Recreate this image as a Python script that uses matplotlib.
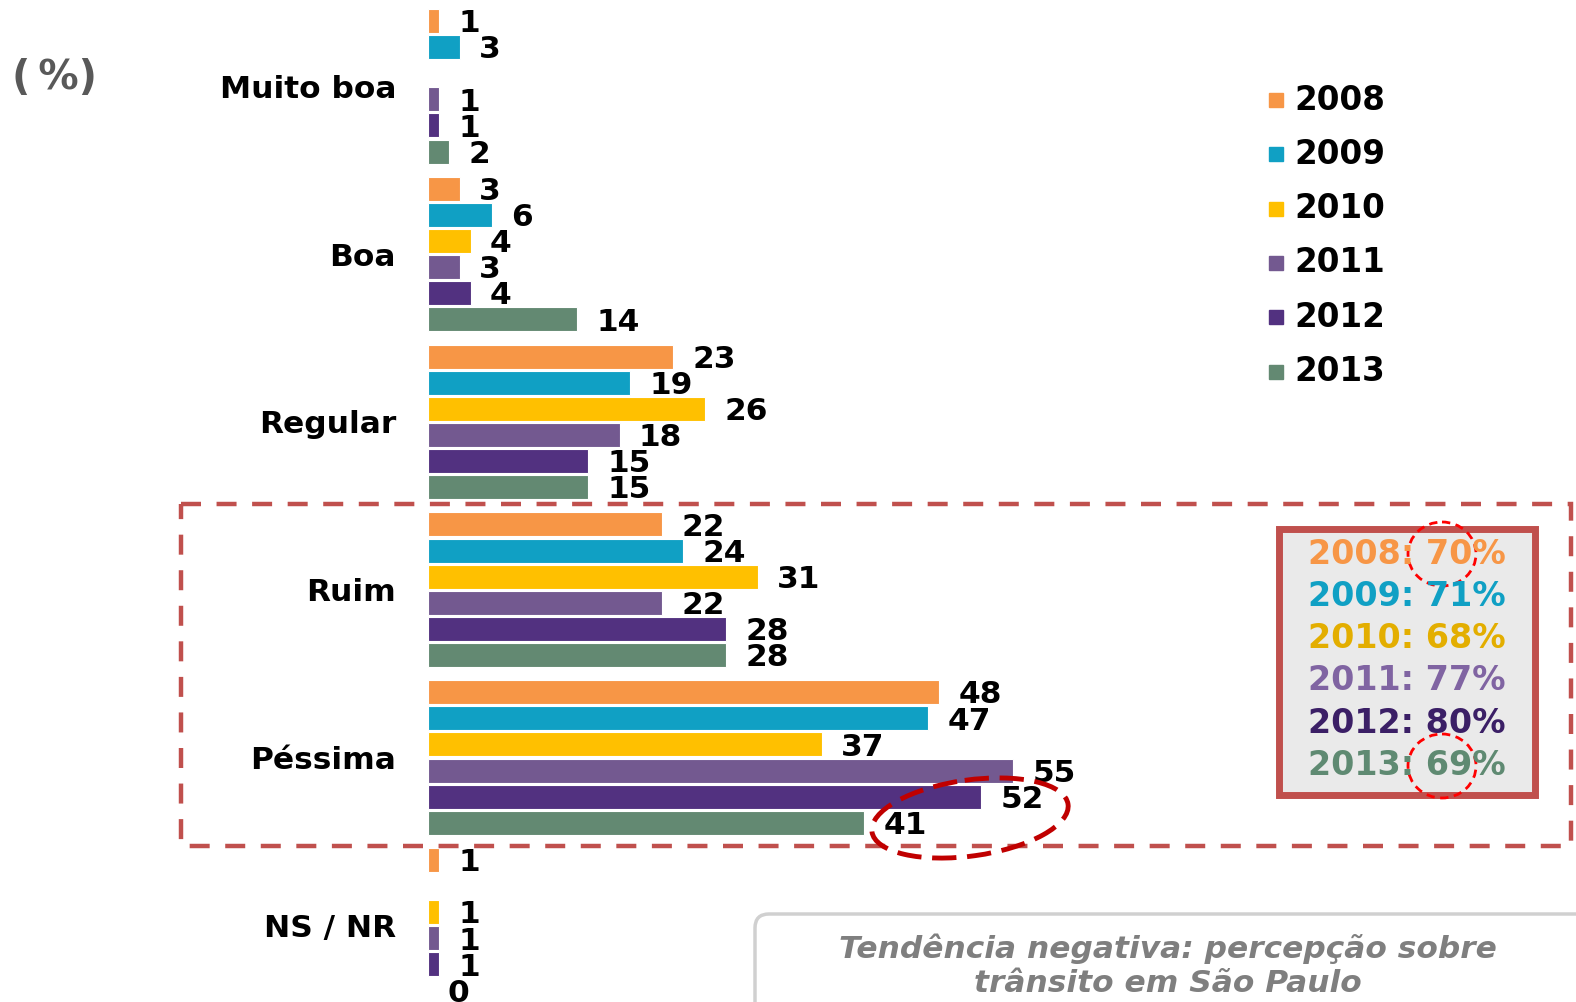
import numpy as np
import matplotlib.pyplot as plt
from matplotlib.patches import Rectangle, Ellipse, FancyBboxPatch

categories = ['Muito boa', 'Boa', 'Regular', 'Ruim', 'Péssima', 'NS / NR']
years = ['2008', '2009', '2010', '2011', '2012', '2013']
v2008 = [1, 3, 23, 22, 48, 1]
v2009 = [3, 6, 19, 24, 47, None]
v2010 = [None, 4, 26, 31, 37, 1]
v2011 = [1, 3, 18, 22, 55, 1]
v2012 = [1, 4, 15, 28, 52, 1]
v2013 = [2, 14, 15, 28, 41, 0]
series = [v2008, v2009, v2010, v2011, v2012, v2013]
summary_pct = [70, 71, 68, 77, 80, 69]

bar_colors = ['#F79646', '#10A0C4', '#FFC000', '#735990', '#523180', '#638972']
text_colors = ['#F79646', '#10A0C4', '#E3AE00', '#8064A2', '#3B1F66', '#5F8A72']

W, H = 1576, 1002
fig = plt.figure(figsize=(W / 100, H / 100), dpi=100)
plt.rcParams['font.family'] = 'DejaVu Sans'

# main axes: x=0 at pixel 428, 10.64 px per percent; y in pixels (top down)
x0 = 428
ppu = 10.64
ax = fig.add_axes([x0 / W, 0, (W - x0) / W, 1])
ax.set_xlim(0, (W - x0) / ppu)
ax.set_ylim(H, 0)
for s in ax.spines.values():
    s.set_visible(False)
ax.set_xticks([])

y_first = 21
group_step = 167.8
bar_step = 26.1

for i, vals in enumerate(series):
    for g, v in enumerate(vals):
        if v is None:
            continue
        y = y_first + g * group_step + i * bar_step
        ax.barh(y, v, height=24, color=bar_colors[i], edgecolor='white', linewidth=0.8)
        ax.annotate(str(v), (v, y), xytext=(14, -2), textcoords='offset points',
                    ha='left', va='center', fontsize=22.5, fontweight='bold',
                    color='black', annotation_clip=False)

centers = [y_first + g * group_step + 2.5 * bar_step for g in range(len(categories))]
ax.set_yticks(centers)
ax.set_yticklabels(categories, fontsize=22.5, fontweight='bold')
ax.tick_params(axis='y', length=0, pad=23)

# overlay axes in pixel coordinates
ov = fig.add_axes([0, 0, 1, 1])
ov.set_xlim(0, W)
ov.set_ylim(H, 0)
ov.axis('off')
ov.patch.set_alpha(0)

ov.text(12, 78, '(\u2009%)', fontsize=29, fontweight='bold', color='#595959',
        ha='left', va='center')

# legend
for i, yr in enumerate(years):
    ly = 100 + 54.3 * i
    ov.add_patch(Rectangle((1269, ly - 7), 14, 14, color=bar_colors[i]))
    ov.text(1294, ly, yr, fontsize=23.5, fontweight='bold', ha='left', va='center')

# dashed highlight frame
ov.add_patch(Rectangle((181, 504), 1390, 342, fill=False, edgecolor='#C0504D',
                       linewidth=3.2, linestyle=(0, (4.5, 3.5))))

# summary box
ov.add_patch(Rectangle((1279, 529), 256, 266, facecolor='#EAEAEA',
                       edgecolor='#C0504D', linewidth=5))
for i, yr in enumerate(years):
    ov.text(1407, 554 + 42.3 * i, f'{yr}: {summary_pct[i]}%', fontsize=24,
            fontweight='bold', color=text_colors[i], ha='center', va='center')
for cy in (554, 766):
    ov.add_patch(Ellipse((1442, cy), 68, 64, fill=False, edgecolor='#FF0000',
                         linewidth=2, linestyle=(0, (3, 2))))

# ellipse around 2012/2013 pessima
ov.add_patch(Ellipse((970, 818), 198, 76, angle=-8, fill=False, edgecolor='#C00000',
                     linewidth=3.5, linestyle=(0, (5, 2.2))))

# bottom note
ov.add_patch(FancyBboxPatch((755, 914), 900, 200, boxstyle='round,pad=0,rounding_size=14',
                            facecolor='white', edgecolor='#D0D0D0', linewidth=2.5))
ov.text(1168, 966, 'Tendência negativa: percepção sobre\ntrânsito em São Paulo',
        fontsize=22.5, fontweight='bold', fontstyle='italic', color='#7F7F7F',
        ha='center', va='center', linespacing=1.2)

fig.savefig('out.png', dpi=100)
